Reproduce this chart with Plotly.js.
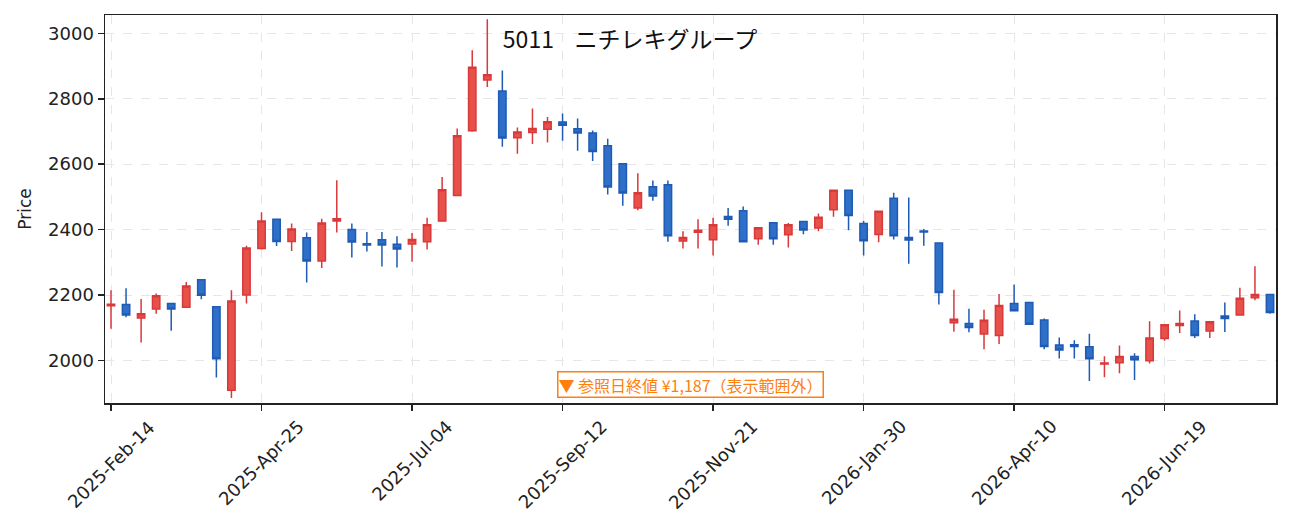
<!DOCTYPE html>
<html>
<head>
<meta charset="utf-8">
<script src="https://cdn.plot.ly/plotly-3.0.1.min.js"></script>
<style>
  body { margin: 0; background: #fff; }
  #chart { width: 1291px; height: 532px; }
</style>
</head>
<body>
<div id="chart"></div>
<script>
//weekly candles, one per week
var dates = [
  "2025-02-14", "2025-02-21", "2025-02-28", "2025-03-07", "2025-03-14", "2025-03-21", "2025-03-28",
  "2025-04-04", "2025-04-11", "2025-04-18", "2025-04-25", "2025-05-02", "2025-05-09", "2025-05-16",
  "2025-05-23", "2025-05-30", "2025-06-06", "2025-06-13", "2025-06-20", "2025-06-27", "2025-07-04",
  "2025-07-11", "2025-07-18", "2025-07-25", "2025-08-01", "2025-08-08", "2025-08-15", "2025-08-22",
  "2025-08-29", "2025-09-05", "2025-09-12", "2025-09-19", "2025-09-26", "2025-10-03", "2025-10-10",
  "2025-10-17", "2025-10-24", "2025-10-31", "2025-11-07", "2025-11-14", "2025-11-21", "2025-11-28",
  "2025-12-05", "2025-12-12", "2025-12-19", "2025-12-26", "2026-01-02", "2026-01-09", "2026-01-16",
  "2026-01-23", "2026-01-30", "2026-02-06", "2026-02-13", "2026-02-20", "2026-02-27", "2026-03-06",
  "2026-03-13", "2026-03-20", "2026-03-27", "2026-04-03", "2026-04-10", "2026-04-17", "2026-04-24",
  "2026-05-01", "2026-05-08", "2026-05-15", "2026-05-22", "2026-05-29", "2026-06-05", "2026-06-12",
  "2026-06-19", "2026-06-26", "2026-07-03", "2026-07-10", "2026-07-17", "2026-07-24", "2026-07-31",
  "2026-08-07"
];
var openVals = [
  2167, 2171, 2130, 2157, 2174, 2163, 2247, 2164, 1909, 2200, 2342, 2432, 2364, 2375,
  2304, 2426, 2400, 2357, 2369, 2355, 2356, 2363, 2426, 2504, 2702, 2857, 2824, 2681,
  2697, 2707, 2729, 2708, 2695, 2656, 2601, 2466, 2531, 2537, 2365, 2392, 2369, 2440,
  2458, 2372, 2421, 2384, 2425, 2405, 2461, 2520, 2419, 2385, 2496, 2376, 2396, 2359,
  2115, 2113, 2081, 2076, 2174, 2177, 2124, 2047, 2048, 2042, 1989, 1993, 2012, 1999,
  2067, 2107, 2121, 2090, 2136, 2139, 2192, 2202
];
var highVals = [
  2215, 2221, 2188, 2205, 2175, 2240, 2247, 2164, 2215, 2351, 2453, 2432, 2419, 2391,
  2433, 2551, 2419, 2393, 2393, 2380, 2390, 2436, 2561, 2709, 2948, 3043, 2886, 2712,
  2770, 2744, 2755, 2740, 2703, 2678, 2601, 2572, 2550, 2550, 2395, 2432, 2436, 2466,
  2471, 2406, 2421, 2420, 2425, 2449, 2520, 2520, 2426, 2456, 2513, 2498, 2402, 2359,
  2216, 2158, 2155, 2203, 2232, 2177, 2128, 2070, 2062, 2082, 2013, 2046, 2022, 2120,
  2109, 2153, 2141, 2118, 2177, 2222, 2288, 2202
];
var lowVals = [
  2097, 2132, 2055, 2143, 2091, 2163, 2187, 1948, 1885, 2174, 2339, 2350, 2335, 2238,
  2283, 2391, 2315, 2333, 2287, 2284, 2302, 2339, 2426, 2504, 2699, 2836, 2653, 2632,
  2662, 2666, 2672, 2641, 2610, 2507, 2473, 2459, 2488, 2363, 2342, 2342, 2321, 2412,
  2363, 2354, 2354, 2345, 2386, 2395, 2439, 2398, 2321, 2361, 2370, 2296, 2351, 2171,
  2088, 2086, 2034, 2050, 2152, 2111, 2034, 2006, 2006, 1937, 1949, 1961, 1940, 1991,
  2060, 2084, 2069, 2069, 2087, 2139, 2184, 2143
];
var closeVals = [
  2172, 2139, 2143, 2198, 2157, 2228, 2199, 2005, 2182, 2344, 2426, 2364, 2402, 2304,
  2420, 2433, 2362, 2353, 2353, 2341, 2370, 2415, 2522, 2687, 2896, 2873, 2680, 2698,
  2709, 2730, 2719, 2695, 2639, 2530, 2512, 2513, 2503, 2381, 2376, 2398, 2415, 2432,
  2363, 2406, 2372, 2415, 2399, 2438, 2520, 2443, 2366, 2456, 2381, 2368, 2393, 2208,
  2126, 2101, 2123, 2168, 2152, 2111, 2043, 2032, 2043, 2005, 1992, 2012, 2002, 2069,
  2109, 2113, 2076, 2118, 2128, 2190, 2202, 2147
];
var tickDates = [
  "2025-02-14", "2025-04-25", "2025-07-04", "2025-09-12",
  "2025-11-21", "2026-01-30", "2026-04-10", "2026-06-19"
];
var tickLabels = [
  "2025-Feb-14", "2025-Apr-25", "2025-Jul-04", "2025-Sep-12",
  "2025-Nov-21", "2026-Jan-30", "2026-Apr-10", "2026-Jun-19"
];
var chartTitle = "5011\u00a0\u00a0\u00a0\u00a0ニチレキグループ";
var noteText = "▼ 参照日終値 ¥1,187（表示範囲外）";

var latinFont = "DejaVu Sans, sans-serif";
var cjkFont = "Noto Sans CJK JP, DejaVu Sans, sans-serif";
var tickFont = { family: latinFont, size: 18, color: "#222" };

var data = [
  {
    type: "candlestick",
    x: dates,
    open: openVals,
    high: highVals,
    low: lowVals,
    close: closeVals,
    increasing: { line: { color: "#d8393b", width: 1.5 }, fillcolor: "#e8504a" },
    decreasing: { line: { color: "#1f5bb5", width: 1.5 }, fillcolor: "#2e6fc8" },
    whiskerwidth: 0,
    hoverinfo: "x+y",
  },
];

//x tick labels: rotated and centred under the tick, as annotations
var annotations = [];
for (var i = 0; i < tickDates.length; i++) {
  annotations.push({
    xref: "x",
    yref: "paper",
    x: tickDates[i],
    y: -0.027,
    xanchor: "center",
    yanchor: "top",
    text: tickLabels[i],
    textangle: -45,
    showarrow: false,
    font: tickFont,
  });
}

//note about the reference close that is off the chart
annotations.push({
  xref: "paper",
  yref: "paper",
  x: 0.5,
  y: 0.014,
  xanchor: "center",
  yanchor: "bottom",
  text: noteText,
  showarrow: false,
  font: { family: cjkFont, size: 16, color: "#ff7f0e" },
  bgcolor: "#fff",
  bordercolor: "#ff7f0e",
  borderwidth: 1.5,
  borderpad: 0,
});

var layout = {
  width: 1291,
  height: 532,
  margin: { l: 105, r: 15, t: 15, b: 129 },
  paper_bgcolor: "#fff",
  plot_bgcolor: "#fff",
  showlegend: false,
  title: {
    text: chartTitle,
    font: { family: cjkFont, size: 23, color: "#111" },
    xref: "container",
    x: 0.488,
    xanchor: "center",
    yref: "container",
    y: 1 - 40 / 532,
    yanchor: "middle",
  },
  xaxis: {
    type: "date",
    range: ["2025-02-11 05:00", "2026-08-09 19:00"],
    rangeslider: { visible: false },
    tickvals: tickDates,
    showticklabels: false,
    ticks: "outside",
    ticklen: 6,
    tickwidth: 1.5,
    tickcolor: "#222",
    showline: true,
    mirror: true,
    linecolor: "#222",
    linewidth: 1.5,
    showgrid: true,
    gridcolor: "#e6e6e6",
    griddash: "dash",
    gridwidth: 1,
    zeroline: false,
    automargin: false,
  },
  yaxis: {
    range: [1870, 3056],
    dtick: 200,
    tickfont: tickFont,
    ticks: "outside",
    ticklen: 6,
    tickwidth: 1.5,
    tickcolor: "#222",
    showline: true,
    mirror: true,
    linecolor: "#222",
    linewidth: 1.5,
    showgrid: true,
    gridcolor: "#e6e6e6",
    griddash: "dash",
    gridwidth: 1,
    zeroline: false,
    automargin: false,
    title: {
      text: "Price",
      font: { family: latinFont, size: 17, color: "#222" },
      standoff: 12,
    },
  },
  annotations: annotations,
};

Plotly.newPlot("chart", data, layout, { displayModeBar: false, staticPlot: true });
</script>
</body>
</html>
